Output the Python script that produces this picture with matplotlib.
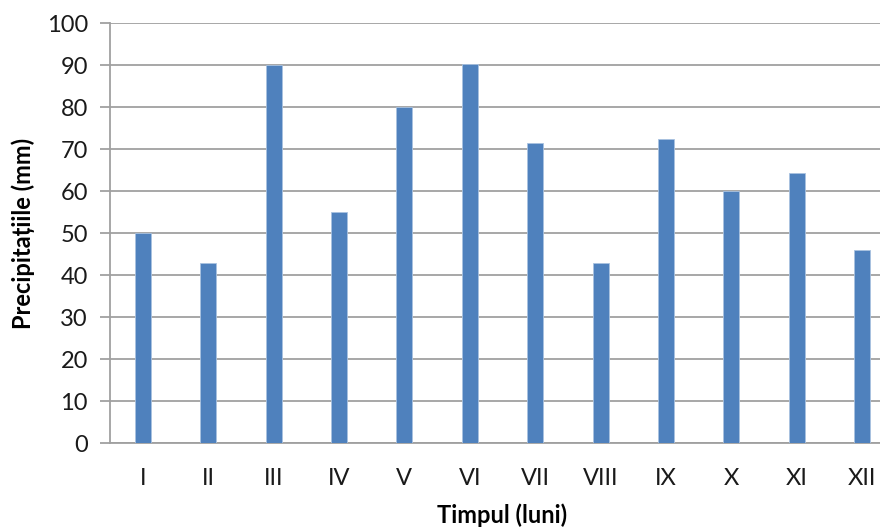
import matplotlib
matplotlib.use("Agg")
import matplotlib.pyplot as plt
import numpy as np

# Monthly precipitation (mm)
months = ["I", "II", "III", "IV", "V", "VI", "VII", "VIII", "IX", "X", "XI", "XII"]
precip = [50, 43, 90, 55, 80, 90.3, 71.4, 43, 72.4, 60, 64.4, 46]
yticks = list(range(0, 101, 10))

plt.rcParams["font.family"] = ["Lato", "DejaVu Sans"]

fig = plt.figure(figsize=(8.8, 5.29), dpi=100)
ax = fig.add_axes([0.125, 0.162, 0.892, 0.794])

x = np.arange(len(months))
ax.bar(x, precip, width=0.245, color="#4f81bd", edgecolor="#a9c2e0",
       linewidth=0.6, zorder=3)

ax.set_xlim(-0.5, len(months) - 0.5)
ax.set_ylim(0, 100)
ax.set_yticks(yticks)
ax.set_xticks(x)
ax.set_xticklabels(months)

ax.grid(axis="y", color="#a0a0a0", linewidth=1.3, zorder=0)
for side in ("top", "right"):
    ax.spines[side].set_visible(False)
ax.spines["left"].set_color("#a0a0a0")
ax.spines["bottom"].set_color("#a0a0a0")
ax.spines["left"].set_linewidth(1.3)
ax.spines["bottom"].set_linewidth(1.3)

ax.tick_params(axis="y", length=7, width=1.3, color="#a0a0a0", pad=9,
               labelsize=17, labelcolor="#1a1a1a")
ax.tick_params(axis="x", length=0, pad=18, labelsize=17, labelcolor="#1a1a1a")

ax.set_ylabel("Precipitațiile (mm)", fontsize=17, fontweight="bold",
              labelpad=8)
ax.set_xlabel("Timpul (luni)", fontsize=17, fontweight="bold", labelpad=10)

fig.savefig("out.png", dpi=100)
